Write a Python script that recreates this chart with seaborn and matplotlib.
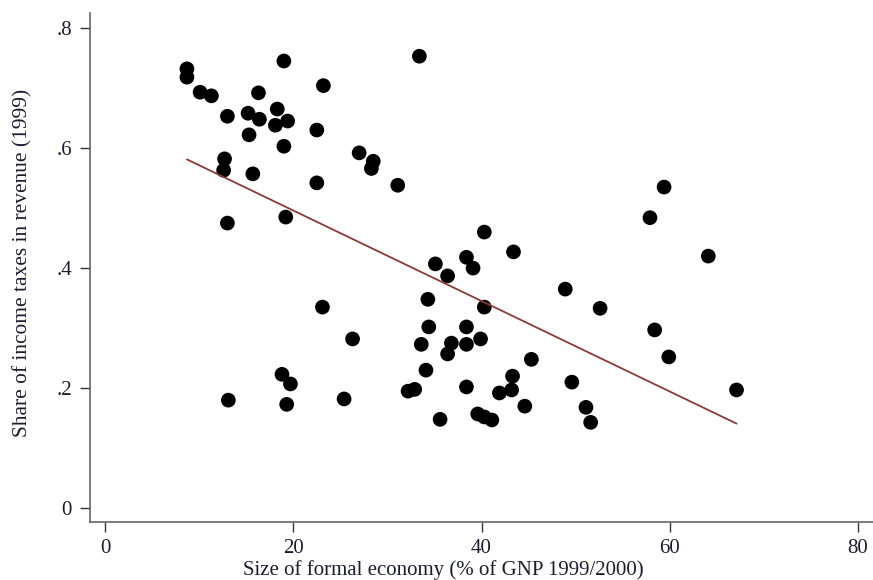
import matplotlib
matplotlib.use("Agg")
import matplotlib.pyplot as plt
import seaborn as sns
import pandas as pd
from matplotlib.ticker import FuncFormatter

formal_economy = [8.7, 8.7, 10.1, 11.3, 19.0, 16.3, 23.2, 13.0, 15.2, 16.4,
                  18.3, 18.1, 19.4, 15.3, 19.0, 22.5, 27.0, 28.5, 28.3, 12.7,
                  12.6, 15.7, 22.5, 31.1, 13.0, 19.2, 33.4, 59.4, 57.9, 64.1,
                  40.3, 43.4, 38.4, 39.1, 35.1, 36.4, 34.3, 40.3, 34.4, 38.4,
                  33.6, 36.8, 36.4, 38.4, 39.9, 34.1, 45.3, 43.3, 32.2, 32.9,
                  38.4, 41.9, 43.2, 44.6, 35.6, 39.6, 40.3, 41.1, 48.9, 49.6,
                  52.6, 58.4, 59.9, 67.1, 51.1, 51.6, 23.1, 26.3, 18.8, 19.7,
                  13.1, 19.3, 25.4]
income_tax_share = [.732, .718, .693, .687, .745, .692, .704, .653, .658, .648,
                    .665, .638, .645, .622, .603, .630, .592, .578, .566, .582,
                    .563, .557, .542, .538, .475, .485, .753, .535, .484, .420,
                    .460, .427, .418, .400, .407, .387, .348, .335, .302, .302,
                    .273, .275, .257, .273, .282, .230, .248, .220, .195, .198,
                    .202, .192, .197, .170, .148, .157, .152, .147, .365, .210,
                    .333, .297, .252, .197, .168, .143, .335, .282, .223, .207,
                    .180, .173, .182]

x_ticks = [0, 20, 40, 60, 80]
y_ticks = [0, .2, .4, .6, .8]

df = pd.DataFrame({"x": formal_economy, "y": income_tax_share})

sns.set_style("white")
plt.rcParams["font.family"] = ["Liberation Serif", "DejaVu Serif"]

fig = plt.figure(figsize=(8.73, 5.80), dpi=100)
ax = fig.add_axes([90 / 873, 58 / 580, 783 / 873, 509 / 580])

text_color = "#1c1c30"
sns.regplot(data=df, x="x", y="y", ax=ax, ci=None, truncate=True,
            scatter_kws=dict(s=112, color="black", edgecolor="none", alpha=1),
            line_kws=dict(color="#8b3a3a", lw=1.3))

ax.set_xlim(-1.6, 81.6)
ax.set_ylim(-0.023, 0.825)
ax.set_xticks(x_ticks)
ax.set_yticks(y_ticks)
ax.yaxis.set_major_formatter(FuncFormatter(
    lambda v, p: "0" if abs(v) < 1e-9 else ("%.1f" % v).lstrip("0")))
ax.xaxis.set_major_formatter(FuncFormatter(lambda v, p: "%d" % v))

for s in ["top", "right"]:
    ax.spines[s].set_visible(False)
for s in ["left", "bottom"]:
    ax.spines[s].set_color("#666666")
    ax.spines[s].set_linewidth(1.2)

ax.tick_params(axis="both", direction="out", length=7, width=1,
               color="#333333", labelsize=15, labelcolor=text_color,
               left=True, bottom=True)
ax.tick_params(axis="y", pad=6)
ax.tick_params(axis="x", pad=5)

ax.set_xlabel("Size of formal economy (% of GNP 1999/2000)", fontsize=15,
              color=text_color)
ax.set_ylabel("Share of income taxes in revenue (1999)", fontsize=15.4,
              color=text_color)
ax.xaxis.set_label_coords(0.451, -0.075)
ax.yaxis.set_label_coords(-0.073, 0.509)

fig.savefig("out.png", dpi=100)
